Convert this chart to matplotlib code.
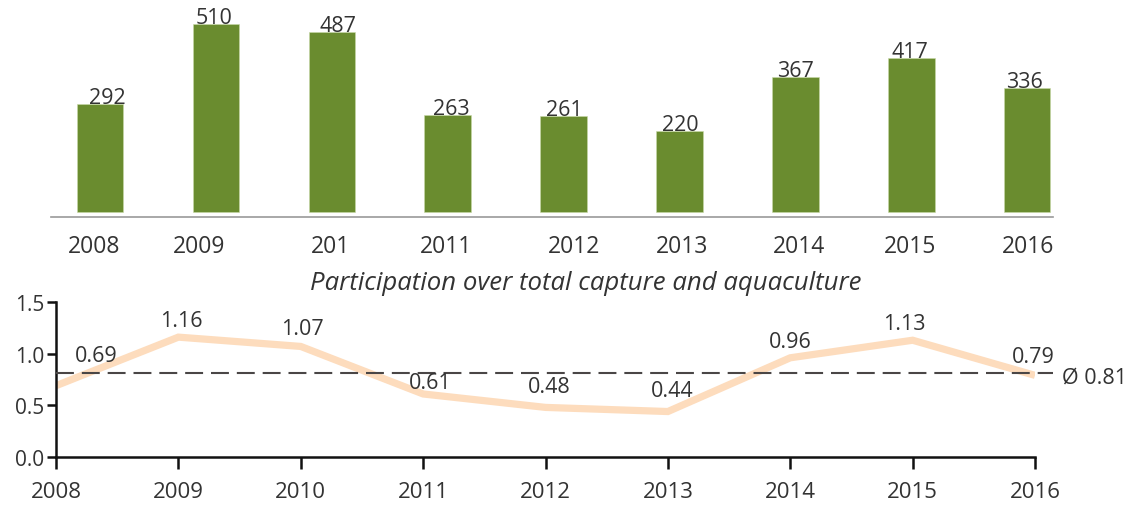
import matplotlib
matplotlib.use("Agg")
import matplotlib.pyplot as plt

# ---------------- data ----------------
years_top = ["2008", "2009", "201", "2011", "2012", "2013", "2014", "2015", "2016"]
volumes = [292, 510, 487, 263, 261, 220, 367, 417, 336]

years = [2008, 2009, 2010, 2011, 2012, 2013, 2014, 2015, 2016]
participation = [0.69, 1.16, 1.07, 0.61, 0.48, 0.44, 0.96, 1.13, 0.79]
average = 0.81
title = "Participation over total capture and aquaculture"

# ---------------- style ----------------
plt.rcParams['font.family'] = ['Open Sans', 'DejaVu Sans']
TXT = '#333333'
BAR = '#6a8c2f'
PEACH = '#fddcbd'
DASH = '#4a4646'
PX = 0.72  # points per pixel at dpi 100

W, H = 1129, 506
fig = plt.figure(figsize=(W / 100, H / 100), dpi=100)

# top bar chart
ax1 = fig.add_axes([51 / W, 1 - 218 / H, (1053 - 51) / W, (218 - 10) / H])
step = 115.9
pos = [100 + step * i for i in range(len(volumes))]
ax1.bar(pos, volumes, width=46.5, color=BAR, edgecolor='#c8d9a8', linewidth=0.4)
ax1.set_xlim(51, 1053)
ax1.set_ylim(-13.5, 550)
for s in ['top', 'right', 'left']:
    ax1.spines[s].set_visible(False)
ax1.spines['bottom'].set_color('#999999')
ax1.spines['bottom'].set_linewidth(1.2)
ax1.set_yticks([])
label_shift = [-6, -17, -1, -2, 10, 3, 4, -1, 1]
ax1.set_xticks([p + d for p, d in zip(pos, label_shift)])
ax1.set_xticklabels(years_top, fontsize=16.5, color=TXT)
ax1.tick_params(axis='x', length=0, pad=12.5)
val_shift = [7, -2, 6, 4, 1, 1, 0, -1, -3]
for p, v, d in zip(pos, volumes, val_shift):
    ax1.annotate(str(v), (p, v), xytext=(d * PX, 1 * PX), textcoords='offset points',
                 ha='center', va='baseline', fontsize=15.5, color=TXT)

# title
fig.text(586 / W, 1 - 283 / H, title, ha='center', va='center', fontsize=18.5,
         style='italic', color=TXT)

# bottom line chart
ax2 = fig.add_axes([56 / W, 1 - 458 / H, 979 / W, 155 / H])
ax2.plot(years, participation, color=PEACH, lw=5.2, solid_joinstyle='miter',
         solid_capstyle='butt', zorder=2)
ax2.plot([years[0], years[-1] + 0.147], [average, average], color=DASH, lw=1.5,
         linestyle=(0, (8.6, 3.8)), clip_on=False, zorder=3)
ax2.annotate(f"Ø {average:.2f}", (years[-1] + 0.147, average), xytext=(9 * PX, -9 * PX),
             textcoords='offset points', ha='left', va='baseline', fontsize=15.5,
             color=TXT, annotation_clip=False)
ax2.set_xlim(years[0], years[-1])
ax2.set_ylim(0, 1.5)
ax2.set_xticks(years)
ax2.set_xticklabels([str(y) for y in years], fontsize=16, color=TXT)
ax2.set_yticks([0.0, 0.5, 1.0, 1.5])
ax2.set_yticklabels(["0.0", "0.5", "1.0", "1.5"], fontsize=15, color=TXT)
for s in ['top', 'right']:
    ax2.spines[s].set_visible(False)
for s in ['left', 'bottom']:
    ax2.spines[s].set_linewidth(1.8)
    ax2.spines[s].set_color('#111111')
ax2.tick_params(axis='x', length=8.6, width=1.8, pad=8.5, color='#111111')
ax2.tick_params(axis='y', length=6.5, width=1.8, pad=2, color='#111111')

offs = [(40, 25), (3, 11), (2, 12), (7, 6), (4, 15), (4, 16), (0, 11), (-8, 11), (-2, 13)]
for x, y, (dx, dy) in zip(years, participation, offs):
    ax2.annotate(f"{y:.2f}", (x, y), xytext=(dx * PX, dy * PX), textcoords='offset points',
                 ha='center', va='baseline', fontsize=15.5, color=TXT, zorder=4)

fig.savefig("out.png", dpi=100)
